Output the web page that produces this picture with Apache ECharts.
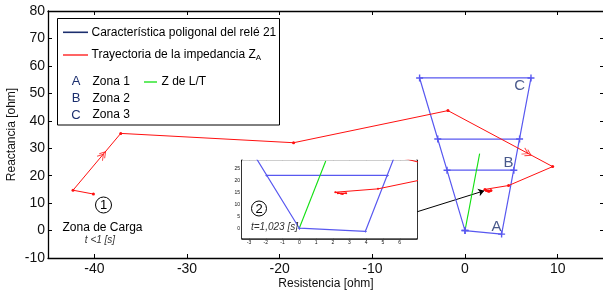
<!DOCTYPE html>
<html>
<head>
<meta charset="utf-8">
<script src="https://cdn.jsdelivr.net/npm/echarts@6/dist/echarts.min.js"></script>
<style>
  html, body { margin: 0; background: #fff; }
  #chart { width: 603px; height: 294px; }
</style>
</head>
<body>
<div id="chart"></div>
<script>
// relay 21 polygon (zones 1-3)
const zoneOutline = [[0, 0], [3.95, -1.3], [7.12, 55.6], [-4.9, 55.6], [0, 0]];
const zone2Line = [[-1.94, 22], [5.27, 22]];
const zone3Line = [[-2.94, 33.35], [5.89, 33.35]];
// line impedance Z de L/T
const lineLT = [[0, 0], [1.58, 28]];
// impedance trajectory ZA
const trajectory = [[-40.1, 13.3], [-42.3, 14.7], [-37.15, 35.4], [-18.5, 32], [-1.84, 43.7],
  [9.46, 23.3], [4.7, 16.4], [2.15, 15.0], [2.5, 14.4], [2.8, 14.6], [2.3, 14.6], [2.6, 14.3]];
// direction chevrons on the trajectory: position and segment it follows
const arrowAt = [[-39.1, 27.5], [6.7, 28.2]];
const arrowSeg = [[1, 2], [4, 5]];
const zoneLabels = [['A', 3.4, 1.4], ['B', 4.7, 24.7], ['C', 5.9, 52.7]];
const pointer = [[-5.15, 6.86], [2.08, 14.5]];

const mainTicksX = [-40, -30, -20, -10, 0, 10];
const mainTicksY = [-10, 0, 10, 20, 30, 40, 50, 60, 70, 80];
const insetTicksX = [-3, -2, -1, 0, 1, 2, 3, 4, 5, 6];
const insetTicksY = [0, 5, 10, 15, 20, 25];

const FONT = '"Liberation Sans", Arial, sans-serif';
const BLUE = '#5858f0';
const RED = '#ff1010';
const GREEN = '#10e010';
const NAVY = '#1c2f6e';
const PLUS = 'path://M4,0h2v4h4v2h-4v4h-2v-4h-4v-2h4z';
const CHEV = 'path://M0,0L5,4L0,8M3,0L8,4L3,8';

let chart = echarts.init(document.getElementById('chart'));

function axisX(gi, pos, min, max, ticks, fs, showLabel) {
  return {
    type: 'value', gridIndex: gi, position: pos, min: min, max: max,
    splitLine: { show: false },
    axisLine: { show: true, onZero: false, lineStyle: { color: '#000', width: gi == 0 ? 1.3 : 1.6 } },
    axisTick: { show: true, inside: true, length: gi == 0 ? 4 : 2, customValues: ticks, lineStyle: { color: '#000' } },
    axisLabel: { show: showLabel, customValues: ticks, fontSize: fs, fontFamily: FONT, color: '#111', margin: gi == 0 ? 4 : 2 }
  };
}
function axisY(gi, pos, min, max, ticks, fs, showLabel) {
  const a = axisX(gi, pos, min, max, ticks, fs, showLabel);
  a.axisLabel.margin = gi == 0 ? 3 : 2;
  return a;
}

function dataSeries(gi, big) {
  const ax = { xAxisIndex: gi * 2, yAxisIndex: gi * 2, clip: true, animation: false };
  const plusMark = { symbol: PLUS, symbolSize: big ? 7 : 3 };
  return [
    Object.assign({ type: 'line', data: zoneOutline, lineStyle: { color: BLUE, width: 1.2 },
      itemStyle: { color: BLUE }, showSymbol: true }, plusMark, ax),
    Object.assign({ type: 'line', data: zone2Line, lineStyle: { color: BLUE, width: 1.2 },
      itemStyle: { color: BLUE } }, plusMark, ax),
    Object.assign({ type: 'line', data: zone3Line, lineStyle: { color: BLUE, width: 1.2 },
      itemStyle: { color: BLUE } }, plusMark, ax),
    Object.assign({ type: 'line', data: lineLT, symbol: 'none', lineStyle: { color: GREEN, width: 1.1 } }, ax),
    Object.assign({ type: 'line', data: trajectory, symbol: 'circle', symbolSize: big ? 3 : 2,
      lineStyle: { color: RED, width: 1 }, itemStyle: { color: RED } }, ax)
  ];
}

const series = dataSeries(0, true).concat(dataSeries(1, false));
series.push({
  id: 'chev', type: 'scatter', xAxisIndex: 0, yAxisIndex: 0, animation: false,
  symbol: CHEV, symbolSize: [9, 7],
  itemStyle: { color: 'transparent', borderColor: RED, borderWidth: 1 },
  data: arrowAt.map(p => ({ value: p }))
});
series.push({
  type: 'scatter', xAxisIndex: 0, yAxisIndex: 0, animation: false, symbolSize: 1,
  itemStyle: { color: 'transparent' },
  label: { show: true, position: 'inside', formatter: p => p.data[2], fontSize: 15, fontFamily: FONT, color: NAVY },
  data: zoneLabels.map(z => [z[1], z[2], z[0]])
});
series.push({
  type: 'lines', coordinateSystem: 'cartesian2d', xAxisIndex: 0, yAxisIndex: 0, animation: false,
  symbol: ['none', 'arrow'], symbolSize: 6,
  lineStyle: { color: '#000', width: 1, opacity: 1 },
  data: [{ coords: pointer }]
});

const legendGraphic = [
  { type: 'rect', shape: { x: 57.5, y: 18.5, width: 222, height: 106.5 }, style: { fill: '#fff', stroke: '#000', lineWidth: 1 }, z: 100 },
  { type: 'line', shape: { x1: 63, y1: 32.3, x2: 88, y2: 32.3 }, style: { stroke: NAVY, lineWidth: 1.6 }, z: 101 },
  { type: 'text', x: 91.5, y: 32.3, style: { text: 'Característica poligonal del relé 21', font: '12px ' + FONT, fill: '#000', verticalAlign: 'middle' }, z: 101 },
  { type: 'line', shape: { x1: 63, y1: 55, x2: 88, y2: 55 }, style: { stroke: RED, lineWidth: 1.3 }, z: 101 },
  { type: 'text', x: 91.5, y: 55, style: { text: '{n|Trayectoria de la impedancia Z}{s|A}', verticalAlign: 'middle',
      rich: { n: { fontSize: 12, fontFamily: FONT, fill: '#000', lineHeight: 14 },
              s: { fontSize: 8, fontFamily: FONT, fill: '#000', lineHeight: 14, verticalAlign: 'bottom' } } }, z: 101 },
  { type: 'text', x: 76, y: 81.7, style: { text: 'A', font: '13px ' + FONT, fill: NAVY, align: 'center', verticalAlign: 'middle' }, z: 101 },
  { type: 'text', x: 92.5, y: 81.7, style: { text: 'Zona 1', font: '12px ' + FONT, fill: '#000', verticalAlign: 'middle' }, z: 101 },
  { type: 'line', shape: { x1: 144, y1: 82, x2: 157, y2: 82 }, style: { stroke: GREEN, lineWidth: 1.3 }, z: 101 },
  { type: 'text', x: 161.5, y: 81.7, style: { text: 'Z de L/T', font: '12px ' + FONT, fill: '#000', verticalAlign: 'middle' }, z: 101 },
  { type: 'text', x: 76, y: 98.3, style: { text: 'B', font: '13px ' + FONT, fill: NAVY, align: 'center', verticalAlign: 'middle' }, z: 101 },
  { type: 'text', x: 92.5, y: 98.3, style: { text: 'Zona 2', font: '12px ' + FONT, fill: '#000', verticalAlign: 'middle' }, z: 101 },
  { type: 'text', x: 76, y: 115, style: { text: 'C', font: '13px ' + FONT, fill: NAVY, align: 'center', verticalAlign: 'middle' }, z: 101 },
  { type: 'text', x: 92.5, y: 115, style: { text: 'Zona 3', font: '12px ' + FONT, fill: '#000', verticalAlign: 'middle' }, z: 101 }
];

const notes = [
  { type: 'circle', shape: { cx: 103.5, cy: 205, r: 8 }, style: { fill: 'none', stroke: '#000', lineWidth: 1 }, z: 50 },
  { type: 'text', x: 103.5, y: 205.5, style: { text: '1', font: '13px ' + FONT, fill: '#000', align: 'center', verticalAlign: 'middle' }, z: 50 },
  { type: 'text', x: 102.5, y: 227.5, style: { text: 'Zona de Carga', font: '12px ' + FONT, fill: '#000', align: 'center', verticalAlign: 'middle' }, z: 50 },
  { type: 'text', x: 100, y: 240.5, style: { text: 't <1 [s]', font: 'italic 10px ' + FONT, fill: '#333', align: 'center', verticalAlign: 'middle' }, z: 50 },
  { type: 'circle', shape: { cx: 259, cy: 208.5, r: 7.5 }, style: { fill: 'none', stroke: '#000', lineWidth: 1 }, z: 50 },
  { type: 'text', x: 259, y: 209, style: { text: '2', font: '13px ' + FONT, fill: '#000', align: 'center', verticalAlign: 'middle' }, z: 50 },
  { type: 'text', x: 251, y: 227.5, style: { text: 't=1,023 [s]', font: 'italic 10px ' + FONT, fill: '#333', verticalAlign: 'middle' }, z: 50 }
];

chart.setOption({
  backgroundColor: '#fff',
  animation: false,
  grid: [
    { left: 48, top: 11, width: 556, height: 247, outerBoundsMode: 'none' },
    { left: 242, top: 160.3, width: 175, height: 78, show: true, backgroundColor: '#fff', borderWidth: 0, z: 3, outerBoundsMode: 'none' }
  ],
  xAxis: [
    Object.assign(axisX(0, 'bottom', -45, 15, mainTicksX, 14, true),
      { name: 'Resistencia [ohm]', nameLocation: 'middle', nameGap: 20, nameMoveOverlap: false,
        nameTextStyle: { fontSize: 12, fontFamily: FONT, color: '#111' } }),
    axisX(0, 'top', -45, 15, mainTicksX, 14, false),
    axisX(1, 'bottom', -3.42, 7.03, insetTicksX, 5, true),
    axisX(1, 'top', -3.42, 7.03, insetTicksX, 5, false)
  ],
  yAxis: [
    Object.assign(axisY(0, 'left', -10, 80, mainTicksY, 14, true),
      { name: 'Reactancia [ohm]', nameLocation: 'middle', nameGap: 30, nameMoveOverlap: false,
        nameTextStyle: { fontSize: 12, fontFamily: FONT, color: '#111' } }),
    axisY(0, 'right', -10, 80, mainTicksY, 14, false),
    axisY(1, 'left', -4.2, 28.3, insetTicksY, 5, true),
    axisY(1, 'right', -4.2, 28.3, insetTicksY, 5, false)
  ],
  series: series,
  graphic: legendGraphic.concat(notes)
});

// rotate the chevrons along the segment they sit on
const rot = arrowSeg.map(s => {
  const a = chart.convertToPixel({ gridIndex: 0 }, trajectory[s[0]]);
  const b = chart.convertToPixel({ gridIndex: 0 }, trajectory[s[1]]);
  return -Math.atan2(b[1] - a[1], b[0] - a[0]) * 180 / Math.PI;
});
chart.setOption({
  series: [{ id: 'chev', data: arrowAt.map((p, i) => ({ value: p, symbolRotate: rot[i] })) }]
});
</script>
</body>
</html>
